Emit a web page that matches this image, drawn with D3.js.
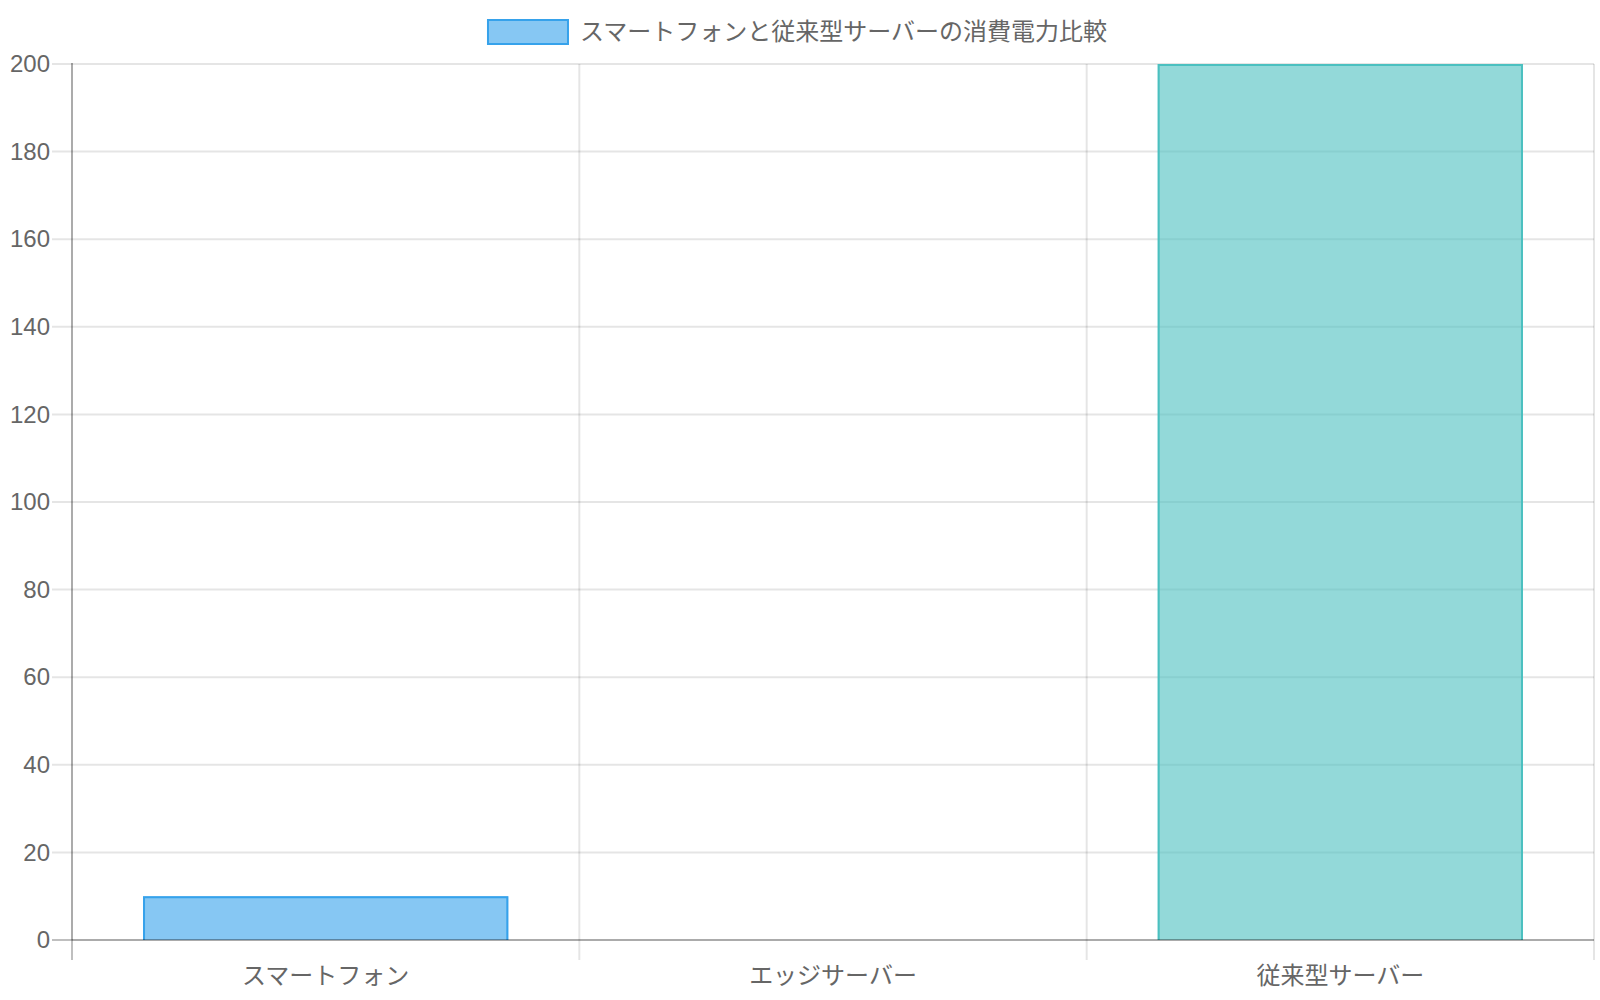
<!DOCTYPE html>
<html>
<head>
<meta charset="utf-8">
<script src="https://cdn.jsdelivr.net/npm/d3@7"></script>
<style>
  html, body { margin: 0; padding: 0; background: #fff; }
  svg text { font-family: "Liberation Sans", Arial, "Noto Sans CJK JP", sans-serif; fill: #666; }
</style>
</head>
<body>
<div id="chart"></div>
<script>
const categories = ['スマートフォン', 'エッジサーバー', '従来型サーバー'];
const powerValues = [10, 0, 200];
const yTicks = [0, 20, 40, 60, 80, 100, 120, 140, 160, 180, 200];
const legendLabel = 'スマートフォンと従来型サーバーの消費電力比較';

const barFills = ['rgba(54,162,235,0.6)', 'rgba(255,206,86,0.6)', 'rgba(75,192,192,0.6)'];
const barBorders = ['rgb(54,162,235)', 'rgb(255,206,86)', 'rgb(75,192,192)'];

const width = 1600;
const height = 1000;
const area = { left: 72, right: 1594, top: 64, bottom: 940 };
const tickLen = 20;

const svg = d3.select('#chart').append('svg')
    .attr('width', width)
    .attr('height', height);

const xScale = d3.scaleBand()
    .domain(categories)
    .range([area.left, area.right])
    .padding(0);

// bars take 72% of each category slot, centred
const barScale = d3.scaleBand()
    .domain(categories)
    .range([area.left, area.right])
    .paddingInner(0.28)
    .paddingOuter(0.14);

const yScale = d3.scaleLinear()
    .domain([0, 200])
    .range([area.bottom, area.top]);

/**
 * Grid lines
 */
const grid = svg.append('g').attr('class', 'grid');

grid.selectAll('line.h')
    .data(yTicks.filter(t => t !== 0))
    .join('line')
    .attr('class', 'h')
    .attr('x1', area.left - tickLen)
    .attr('x2', area.right)
    .attr('y1', d => yScale(d))
    .attr('y2', d => yScale(d))
    .attr('stroke', 'rgba(0,0,0,0.1)')
    .attr('stroke-width', 2);

const vLines = categories.slice(1).map(c => xScale(c)).concat([area.right]);
grid.selectAll('line.v')
    .data(vLines)
    .join('line')
    .attr('class', 'v')
    .attr('x1', d => d)
    .attr('x2', d => d)
    .attr('y1', area.top)
    .attr('y2', area.bottom + tickLen)
    .attr('stroke', 'rgba(0,0,0,0.1)')
    .attr('stroke-width', 2);

/**
 * Bars
 */
const bars = svg.append('g').attr('class', 'bars');
const barData = categories.map((c, i) => ({ category: c, value: powerValues[i], i }));

bars.selectAll('rect')
    .data(barData)
    .join('rect')
    .attr('x', d => barScale(d.category))
    .attr('y', d => yScale(d.value))
    .attr('width', barScale.bandwidth())
    .attr('height', d => yScale(0) - yScale(d.value))
    .attr('fill', d => barFills[d.i]);

// border on three sides, bottom skipped (drawn inside the bar)
bars.selectAll('path')
    .data(barData.filter(d => d.value > 0))
    .join('path')
    .attr('d', d => {
        const x0 = barScale(d.category) + 1;
        const x1 = barScale(d.category) + barScale.bandwidth() - 1;
        const y0 = yScale(d.value) + 1;
        const yb = yScale(0);
        return `M${x0},${yb}L${x0},${y0}L${x1},${y0}L${x1},${yb}`;
    })
    .attr('fill', 'none')
    .attr('stroke', d => barBorders[d.i])
    .attr('stroke-width', 2);

/**
 * Axes lines (zero line and left border)
 */
const axes = svg.append('g').attr('class', 'axes');
axes.append('line')
    .attr('x1', area.left - tickLen).attr('x2', area.left)
    .attr('y1', yScale(0)).attr('y2', yScale(0))
    .attr('stroke', 'rgba(0,0,0,0.25)').attr('stroke-width', 2);
axes.append('line')
    .attr('x1', area.left).attr('x2', area.right)
    .attr('y1', yScale(0)).attr('y2', yScale(0))
    .attr('stroke', 'rgba(0,0,0,0.33)').attr('stroke-width', 2);
axes.append('line')
    .attr('x1', area.left).attr('x2', area.left)
    .attr('y1', yScale(0)).attr('y2', yScale(0) + tickLen)
    .attr('stroke', 'rgba(0,0,0,0.25)').attr('stroke-width', 2);
axes.append('line')
    .attr('x1', area.left).attr('x2', area.left)
    .attr('y1', area.top - 1).attr('y2', yScale(0))
    .attr('stroke', 'rgba(0,0,0,0.33)').attr('stroke-width', 2);

/**
 * Tick labels
 */
const yAxisCall = d3.axisLeft(yScale)
    .tickValues(yTicks)
    .tickSize(0)
    .tickPadding(22);
const yAxis = svg.append('g')
    .attr('transform', `translate(${area.left}, 0)`)
    .call(yAxisCall);
yAxis.select('.domain').remove();
yAxis.selectAll('text')
    .attr('font-size', 24)
    .attr('fill', '#666')
    .style('font-family', '"Liberation Sans", Arial, sans-serif');

const xAxisCall = d3.axisBottom(xScale)
    .tickSize(0)
    .tickPadding(24);
const xAxis = svg.append('g')
    .attr('transform', `translate(0, ${area.bottom})`)
    .call(xAxisCall);
xAxis.select('.domain').remove();
xAxis.selectAll('text')
    .attr('font-size', 24)
    .attr('fill', '#666')
    .attr('dy', null)
    .attr('y', 38)
    .attr('dominant-baseline', 'middle');

/**
 * Legend
 */
const legend = svg.append('g').attr('class', 'legend');
const legendText = legend.append('text')
    .attr('y', 34)
    .attr('font-size', 24)
    .attr('dominant-baseline', 'middle')
    .text(legendLabel);
const textW = legendText.node().getComputedTextLength();
const boxW = 80;
const gap = 13;
const startX = (width - (boxW + gap + textW)) / 2 - 3;
legend.append('rect')
    .attr('x', startX + 1)
    .attr('y', 20)
    .attr('width', boxW)
    .attr('height', 24)
    .attr('fill', barFills[0])
    .attr('stroke', barBorders[0])
    .attr('stroke-width', 2);
legendText.attr('x', startX + boxW + gap);
</script>
</body>
</html>
